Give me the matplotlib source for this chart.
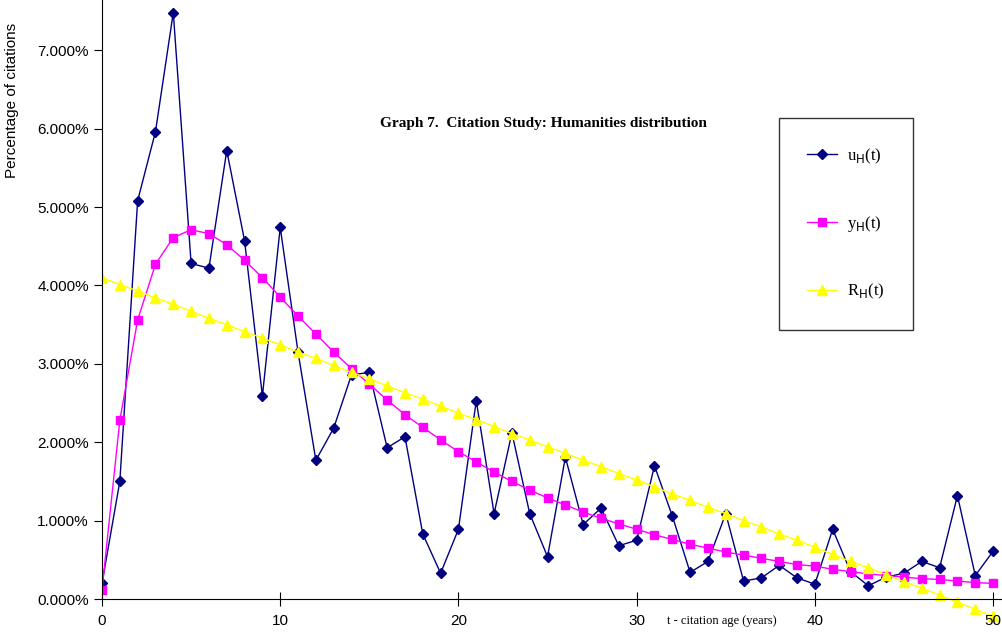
import matplotlib
matplotlib.use("Agg")
import matplotlib.pyplot as plt
from matplotlib.ticker import FuncFormatter

t = list(range(51))
u_H = [0.20,1.50,5.08,5.96,7.48,4.28,4.22,5.72,4.57,2.59,4.74,3.15,1.77,2.18,2.86,2.89,1.93,2.07,0.83,0.33,
       0.89,2.53,1.09,2.12,1.09,0.54,1.81,0.95,1.16,0.68,0.75,1.70,1.06,0.34,0.48,1.09,0.23,0.27,0.43,0.27,
       0.19,0.89,0.35,0.17,0.28,0.33,0.48,0.40,1.32,0.30,0.61]
y_H = [0.12,2.28,3.56,4.27,4.61,4.71,4.66,4.52,4.32,4.10,3.85,3.61,3.38,3.15,2.94,2.74,2.54,2.35,2.19,2.03,
       1.88,1.75,1.62,1.50,1.39,1.29,1.20,1.11,1.03,0.96,0.89,0.82,0.76,0.70,0.65,0.60,0.56,0.52,0.48,0.44,
       0.42,0.38,0.35,0.32,0.30,0.28,0.26,0.25,0.23,0.21,0.20]
R_H = [4.10,4.01,3.93,3.84,3.76,3.67,3.58,3.50,3.41,3.33,3.24,3.15,3.07,2.98,2.89,2.81,2.72,2.63,2.55,2.46,
       2.37,2.29,2.20,2.11,2.03,1.94,1.86,1.77,1.69,1.60,1.52,1.43,1.34,1.26,1.17,1.09,1.00,0.92,0.83,0.75,
       0.66,0.57,0.48,0.40,0.31,0.22,0.14,0.05,-0.04,-0.13,-0.22]
x_ticks = [0, 10, 20, 30, 40, 50]
y_ticks = [0, 1, 2, 3, 4, 5, 6, 7]

fig = plt.figure(figsize=(10.02, 6.32), dpi=100)
ax = fig.add_axes([102/1002, 0, 1 - 102/1002, 1])
ax.set_xlim(0, 50.5)
ax.set_ylim(-0.42, 7.64)

ax.plot(t, u_H, color="#000080", marker="D", markersize=5, linewidth=1, label=r"u$_\mathrm{H}$(t)")
ax.plot(t, y_H, color="#FF00FF", marker="s", markersize=6, linewidth=1, label=r"y$_\mathrm{H}$(t)")
ax.plot(t, R_H, color="#FFFF00", marker="^", markersize=7, linewidth=1, label=r"R$_\mathrm{H}$(t)")

for s in ["top", "right"]:
    ax.spines[s].set_visible(False)
ax.spines["bottom"].set_position(("data", 0))
ax.spines["left"].set_bounds(0, 7.64)
ax.set_xticks(x_ticks)
ax.set_yticks(y_ticks)
ax.tick_params(axis="x", direction="inout", length=10, labelsize=11, labelbottom=False)
ax.tick_params(axis="y", direction="out", length=6, labelsize=11)
ax.yaxis.set_major_formatter(FuncFormatter(lambda v, p: f"{v:.3f}%"))
for lab in ax.get_yticklabels():
    lab.set_fontfamily("Liberation Sans")
for xt in x_ticks:
    ax.text(xt, -0.28, str(xt), ha="center", va="center", fontsize=11, family="Liberation Sans")

fig.text(12/1002, 1 - 100/632, "Percentage of citations", rotation=90, ha="center", va="center",
         fontsize=11, family="Liberation Sans")
fig.text(722/1002, 1 - 621/632, "t - citation age (years)", ha="center", va="center",
         fontsize=9, family="Liberation Serif")
fig.text(543/1002, 1 - 123/632, "Graph 7.  Citation Study: Humanities distribution", ha="center",
         va="center", fontsize=11, family="Liberation Serif", weight="bold")

leg = ax.legend(loc="upper left", bbox_to_anchor=(779/1002, 1 - 118/632), bbox_transform=fig.transFigure,
                borderaxespad=0, frameon=True, fancybox=False, edgecolor="black", labelspacing=2.9,
                borderpad=1.7, handlelength=1.8, handletextpad=0.6,
                prop={"family": "Liberation Serif", "size": 12})
leg.get_frame().set_linewidth(1)
fig.savefig("out.png", dpi=100)
